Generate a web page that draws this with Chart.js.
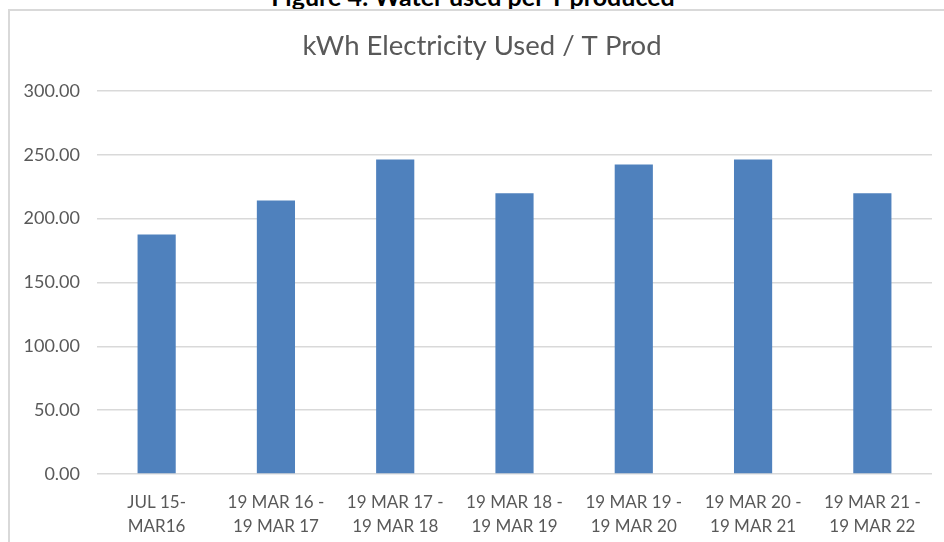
<!DOCTYPE html>
<html>
<head>
<meta charset="utf-8">
<script src="https://cdn.jsdelivr.net/npm/chart.js@4"></script>
<style>
  html, body { margin: 0; padding: 0; width: 944px; height: 542px; overflow: hidden; background: #fff; position: relative; }
  #frame { position: absolute; left: 8px; top: 9px; width: 960px; height: 560px; border-left: 2px solid #d9d9d9; border-top: 2px solid #d9d9d9; }
  #caption { position: absolute; left: 0; top: -19px; width: 946px; text-align: center; font: bold 25px Lato, sans-serif; line-height: 30px; color: #000; }
  #wrap { position: absolute; left: 0; top: 0; width: 944px; height: 542px; }
</style>
</head>
<body>
<div id="caption">Figure 4: Water used per T produced</div>
<div id="frame"></div>
<div id="wrap"><canvas id="elecChart"></canvas></div>
<script>
// datos
const periods = [
    ['JUL 15-', 'MAR16'],
    ['19 MAR 16 -', '19 MAR 17'],
    ['19 MAR 17 -', '19 MAR 18'],
    ['19 MAR 18 -', '19 MAR 19'],
    ['19 MAR 19 -', '19 MAR 20'],
    ['19 MAR 20 -', '19 MAR 21'],
    ['19 MAR 21 -', '19 MAR 22']
];
const kwhPerTon = [187.6, 214.2, 246.4, 220.0, 242.5, 246.4, 220.0];
const yTicks = [0, 50, 100, 150, 200, 250, 300];

const grey = '#595959';
const ctx = document.getElementById('elecChart').getContext('2d');

// el titulo en el original esta un poco a la derecha del centro del lienzo
const shiftTitle = {
    id: 'shiftTitle',
    afterLayout: (chart) => {
        if (chart.titleBlock) chart.titleBlock.left = 32;
    }
};

const chart = new Chart(ctx, {
    type: 'bar',
    data: {
        labels: periods,
        datasets: [{
            label: 'kWh Electricity Used / T Prod',
            data: kwhPerTon,
            backgroundColor: '#4f81bd',
            borderWidth: 0,
            barPercentage: 0.64,
            categoryPercentage: 0.5
        }]
    },
    options: {
        responsive: true,
        maintainAspectRatio: false,
        animation: false,
        layout: { padding: { left: 0, right: 12, top: 0, bottom: 0 } },
        plugins: {
            legend: { display: false },
            tooltip: { enabled: false },
            title: {
                display: true,
                text: 'kWh Electricity Used / T Prod',
                color: grey,
                font: { family: 'Lato', size: 27.5, weight: 'normal', lineHeight: 1.2 },
                padding: { top: 30, bottom: 28 }
            }
        },
        scales: {
            x: {
                grid: { display: false, drawTicks: false },
                border: { display: false },
                ticks: {
                    color: grey,
                    font: { family: 'Lato', size: 17, lineHeight: 1.4 },
                    padding: 17,
                    maxRotation: 0,
                    autoSkip: false
                },
                afterFit: (scale) => { scale.height = 68; }
            },
            y: {
                min: 0,
                max: 300,
                afterBuildTicks: (scale) => { scale.ticks = yTicks.map(v => ({ value: v })); },
                grid: { color: '#d9d9d9', lineWidth: 1.5, drawTicks: false },
                border: { display: false },
                ticks: {
                    color: grey,
                    font: { family: 'Lato', size: 18 },
                    padding: 17,
                    callback: (v) => Number(v).toFixed(2)
                },
                afterFit: (scale) => { scale.width = 97; }
            }
        }
    },
    plugins: [shiftTitle]
});
</script>
</body>
</html>
